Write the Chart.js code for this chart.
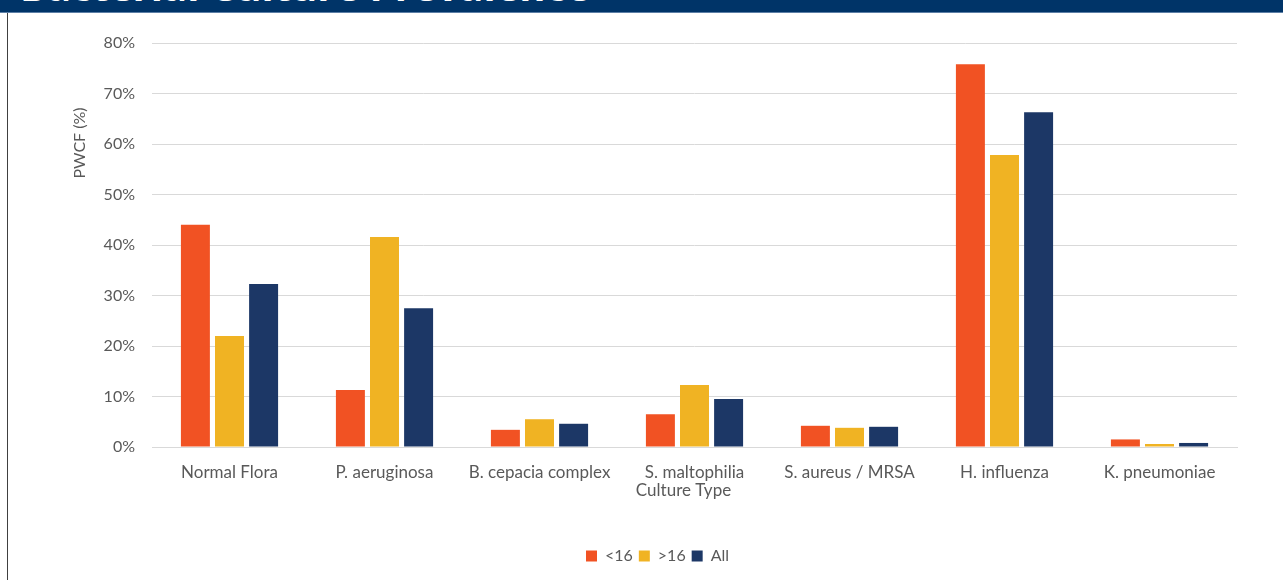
<!DOCTYPE html>
<html>
<head>
<meta charset="utf-8">
<script src="https://cdn.jsdelivr.net/npm/chart.js@4"></script>
<style>
  html, body { margin: 0; padding: 0; background: #fff; overflow: hidden; }
  body { width: 1283px; height: 580px; position: relative; font-family: Lato, "Open Sans", sans-serif; }
  #header {
    position: absolute; left: 0; top: 0; width: 1283px; height: 12px;
    background: #003468; border-bottom: 1px solid #5d7fa6; overflow: hidden;
  }
  #header span {
    position: absolute; left: 20px; top: -42px; color: #fff;
    font: bold 40px "Open Sans", sans-serif; white-space: nowrap;
  }
  #leftLine { position: absolute; left: 7px; top: 13px; width: 1px; height: 567px; background: #404040; }
  #wrap { position: absolute; left: 8px; top: 13px; width: 1275px; height: 567px; }
</style>
</head>
<body>
<div id="header"><span>Bacterial Culture Prevalence</span></div>
<div id="leftLine"></div>
<div id="wrap"><canvas id="chart"></canvas></div>
<script>
// categorie e valori (%)
const categories = ["Normal Flora", "P. aeruginosa", "B. cepacia complex", "S. maltophilia", "S. aureus / MRSA", "H. influenza", "K. pneumoniae"];
const under16 = [44.0, 11.3, 3.4, 6.5, 4.2, 75.8, 1.5];
const over16 = [22.0, 41.6, 5.5, 12.3, 3.8, 57.8, 0.6];
const allAges = [32.3, 27.5, 4.6, 9.5, 4.0, 66.3, 0.8];
const seriesNames = ["<16", ">16", "All"];
const yTicks = [0, 10, 20, 30, 40, 50, 60, 70, 80];

const textColor = "#595959";
const gridColor = "#d9d9d9";
const fontFam = "Lato, sans-serif";

// titoli degli assi disegnati a mano (posizioni come nell'originale)
const axisTitles = {
  id: "axisTitles",
  afterLayout(chart) {
    // la legenda nell'originale e' un po' spostata a destra
    chart.legend.left += 35;
    chart.legend.right += 35;
  },
  afterDraw(chart) {
    const c = chart.ctx;
    const area = chart.chartArea;
    c.save();
    c.fillStyle = textColor;
    c.textAlign = "center";
    c.textBaseline = "middle";
    c.font = "17px " + fontFam;
    c.fillText("Culture Type", (area.left + area.right) / 2 - 11, 478);
    c.translate(72, 130);
    c.rotate(-Math.PI / 2);
    c.font = "16px " + fontFam;
    c.fillText("PWCF (%)", 0, 0);
    c.restore();
  }
};

const ctx = document.getElementById("chart").getContext("2d");
new Chart(ctx, {
  type: "bar",
  data: {
    labels: categories,
    datasets: [
      { label: seriesNames[0], data: under16, backgroundColor: "#F15223" },
      { label: seriesNames[1], data: over16, backgroundColor: "#F0B323" },
      { label: seriesNames[2], data: allAges, backgroundColor: "#1C3766" }
    ]
  },
  options: {
    responsive: true,
    maintainAspectRatio: false,
    animation: false,
    categoryPercentage: 0.66,
    barPercentage: 0.85,
    layout: { padding: { top: 30, right: 46, bottom: 6, left: 0 } },
    plugins: {
      legend: {
        position: "bottom",
        labels: {
          color: textColor,
          font: { family: fontFam, size: 16 },
          boxWidth: 11, boxHeight: 11, padding: 6
        }
      },
      tooltip: { enabled: false }
    },
    scales: {
      x: {
        grid: { display: false, drawTicks: false },
        border: { color: gridColor, width: 1 },
        ticks: { color: textColor, font: { family: fontFam, size: 17 }, padding: 15, maxRotation: 0 },
        afterFit(scale) { scale.height = 95; }
      },
      y: {
        min: 0, max: 80,
        afterBuildTicks(scale) { scale.ticks = yTicks.map(v => ({ value: v })); },
        grid: { color: gridColor, lineWidth: 1, drawTicks: false },
        border: { display: false },
        ticks: { color: textColor, font: { family: fontFam, size: 16 }, padding: 17, callback: v => v + "%" },
        afterFit(scale) { scale.width = 144; }
      }
    }
  },
  plugins: [axisTitles]
});
</script>
</body>
</html>
